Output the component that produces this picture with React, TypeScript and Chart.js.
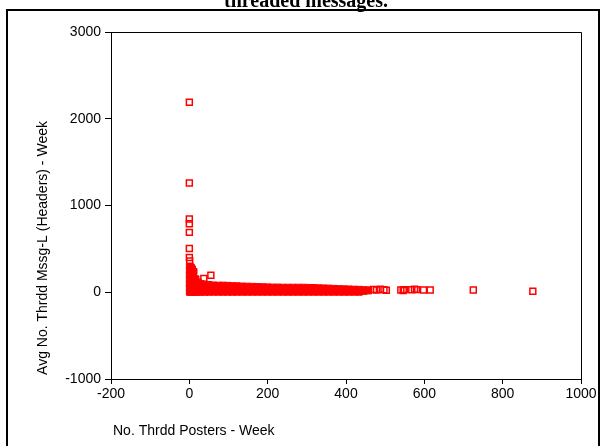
import React, { useEffect, useRef } from 'react';
import { Chart, registerables } from 'chart.js';

Chart.register(...registerables);

// ---- data ----
const chartTitle = 'threaded messages.';
const xAxisTitle = 'No. Thrdd Posters - Week';
const yAxisTitle = 'Avg No. Thrdd Mssg-L (Headers) - Week';

const xMin = -200;
const xMax = 1000;
const xStep = 200;
const yMin = -1000;
const yMax = 3000;
const yStep = 1000;

// dense cluster columns (x) with the y values stacked in each column
const denseX = [0, 2, 5, 8, 12, 17, 23, 30, 40, 50, 62, 74, 86, 98, 110, 122, 135, 148, 161, 174, 187, 200, 213, 226, 239, 252, 265, 278, 291, 304, 317, 330, 343, 356, 369, 382, 395, 408, 421, 434, 446, 458];
const denseY = [
  [0, 50, 100, 150, 200, 250, 300],
  [0, 50, 100, 150, 200, 250, 300],
  [0, 50, 100, 150, 200, 250, 290],
  [0, 55, 110, 165, 215, 270],
  [0, 55, 110, 165, 240],
  [0, 55, 110, 155],
  [0, 55, 118],
  [0, 50, 100],
  [0, 45, 92],
  [0, 45, 90],
  [0, 40, 84],
  [0, 40, 82],
  [0, 40, 82],
  [0, 40, 80],
  [0, 38, 76],
  [0, 38, 75],
  [0, 36, 72],
  [0, 35, 70],
  [0, 35, 68],
  [0, 34, 66],
  [0, 64],
  [0, 62],
  [0, 60],
  [0, 60],
  [0, 58],
  [0, 58],
  [0, 58],
  [0, 58],
  [0, 58],
  [0, 56],
  [0, 55],
  [0, 52],
  [0, 50],
  [0, 48],
  [0, 45],
  [0, 42],
  [0, 40],
  [0, 38],
  [0, 36],
  [0, 34],
  [10, 30],
  [15, 28],
];

// sparse, individually visible squares
const sparseX = [0, 0, 0, 0, 0, 0, 0, 1, 37, 55, 470, 478, 488, 497, 503, 540, 546, 549, 568, 575, 580, 598, 615, 725, 877];
const sparseY = [2190, 1260, 845, 790, 690, 505, 400, 360, 160, 196, 32, 25, 35, 28, 22, 25, 20, 30, 28, 35, 30, 25, 25, 25, 12];

const FONT = '"Liberation Sans", Arial, Helvetica, sans-serif';

export default function App() {
  const ref = useRef<HTMLCanvasElement>(null);

  useEffect(() => {
    const canvas = ref.current;
    if (!canvas) return;

    const densePts: { x: number; y: number }[] = [];
    denseX.forEach((x, i) => {
      denseY[i].forEach((y) => densePts.push({ x, y }));
    });
    const sparsePts = sparseX.map((x, i) => ({ x, y: sparseY[i] }));

    const decor = {
      id: 'decor',
      afterDraw(chart: any) {
        const { ctx, chartArea } = chart;
        const { left, right, top, bottom } = chartArea;
        ctx.save();
        // frame top/right
        ctx.strokeStyle = '#000';
        ctx.lineWidth = 1;
        ctx.beginPath();
        ctx.moveTo(left, Math.round(top) + 0.5);
        ctx.lineTo(Math.round(right) + 0.5, Math.round(top) + 0.5);
        ctx.lineTo(Math.round(right) + 0.5, bottom);
        ctx.stroke();

        // outer border
        ctx.lineWidth = 2;
        ctx.strokeRect(7, 10, 592, 460);

        // title (top partially cut)
        ctx.fillStyle = '#000';
        ctx.font = 'bold 20px "Liberation Serif", "Times New Roman", serif';
        ctx.textAlign = 'center';
        ctx.textBaseline = 'alphabetic';
        ctx.fillText(chartTitle, 306, 7);

        // x axis title
        ctx.font = `14px ${FONT}`;
        ctx.textAlign = 'left';
        ctx.textBaseline = 'middle';
        ctx.fillText(xAxisTitle, 113, 431);

        // y axis title
        ctx.translate(43, 248);
        ctx.rotate(-Math.PI / 2);
        ctx.textAlign = 'center';
        ctx.textBaseline = 'middle';
        ctx.fillText(yAxisTitle, 0, 0);
        ctx.restore();
      },
    };

    const chart = new Chart(canvas, {
      type: 'scatter',
      data: {
        datasets: [
          {
            label: 'dense',
            data: densePts,
            pointStyle: 'rect',
            pointRadius: 4.2,
            backgroundColor: '#ff0000',
            borderColor: '#ff0000',
            borderWidth: 1,
          },
          {
            label: 'sparse',
            data: sparsePts,
            pointStyle: 'rect',
            pointRadius: 4.2,
            backgroundColor: 'rgba(255,255,255,0)',
            borderColor: '#ff0000',
            borderWidth: 1.5,
          },
        ],
      },
      options: {
        animation: false,
        responsive: false,
        devicePixelRatio: 1,
        layout: { padding: { left: 0, right: 23, top: 32, bottom: 0 } },
        plugins: {
          legend: { display: false },
          tooltip: { enabled: false },
          title: { display: false },
        },
        scales: {
          x: {
            type: 'linear',
            min: xMin,
            max: xMax,
            ticks: {
              stepSize: xStep,
              color: '#000',
              font: { family: FONT, size: 14 },
              padding: 2,
              maxRotation: 0,
              callback: (v: any) => String(v),
            },
            grid: { display: true, drawOnChartArea: false, drawTicks: true, tickLength: 5, color: '#000' },
            border: { display: true, color: '#000', width: 1 },
            afterFit: (s: any) => {
              s.height = 67;
            },
          },
          y: {
            type: 'linear',
            min: yMin,
            max: yMax,
            ticks: {
              stepSize: yStep,
              color: '#000',
              font: { family: FONT, size: 14 },
              padding: 4,
              callback: (v: any) => String(v),
            },
            grid: { display: true, drawOnChartArea: false, drawTicks: true, tickLength: 6, color: '#000' },
            border: { display: true, color: '#000', width: 1 },
            afterFit: (s: any) => {
              s.width = 111;
            },
          },
        },
      },
      plugins: [decor],
    });

    return () => chart.destroy();
  }, []);

  return (
    <div style={{ position: 'absolute', left: 0, top: 0, width: 604, height: 446, background: '#fff', overflow: 'hidden' }}>
      <canvas ref={ref} width={604} height={446} style={{ display: 'block', width: 604, height: 446 }} />
    </div>
  );
}
